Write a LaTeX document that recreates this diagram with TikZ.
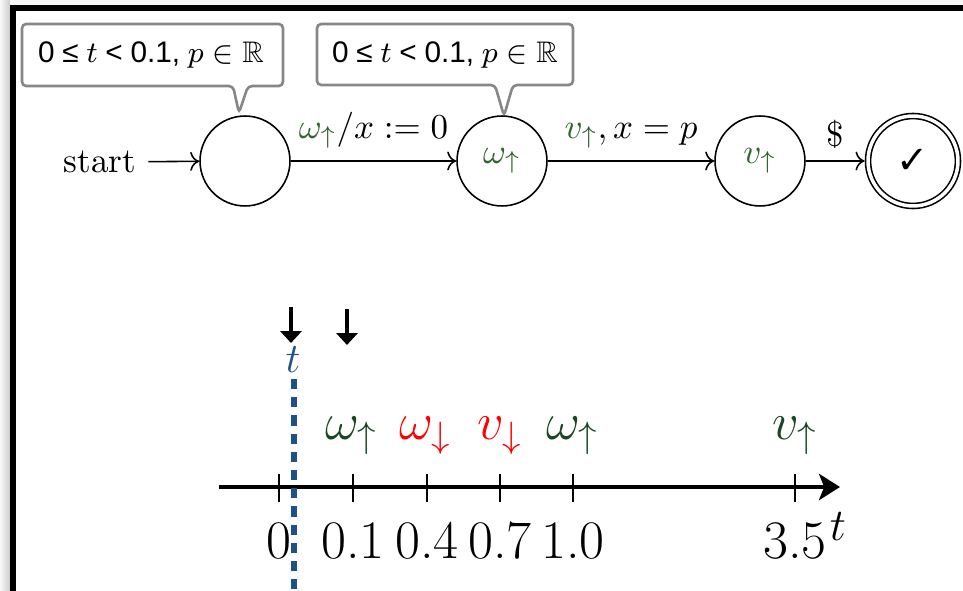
\RequirePackage{fix-cm}
\documentclass[tikz,border=0pt]{standalone}
\usepackage{amssymb}
\usepackage{fontspec}
\newfontfamily\calloutfont{Liberation Sans}
\newfontfamily\symfont{DejaVu Sans}
\usetikzlibrary{arrows.meta}
\definecolor{topgreen}{RGB}{50,100,50}
\definecolor{botgreen}{RGB}{25,70,35}
\definecolor{tblue}{RGB}{30,80,140}
\definecolor{cgray}{RGB}{135,135,135}
\newcommand\csp{\hspace{2.2pt}}
\tikzset{
  state/.style={circle, draw, minimum size=25.7pt, inner sep=0pt, line width=0.45pt},
  accept/.style={state, double, double distance=1pt, outer sep=1pt},
  edge/.style={->, line width=0.45pt},
  callout/.style={draw=cgray, line width=0.75pt, fill=white, rounded corners=1.2pt},
  ctext/.style={font=\calloutfont\fontsize{8.5}{10}\selectfont, inner sep=0pt},
  axisline/.style={line width=1.2pt, -{Stealth[length=6pt,width=7.5pt,inset=1.5pt]}},
  tickmark/.style={line width=0.5pt},
  downarr/.style={line width=0.9pt, -{Triangle[length=3.4pt,width=6pt]}},
  dashline/.style={tblue, line width=1.6pt, dash pattern=on 2.9pt off 2.3pt},
  ticklbl/.style={font=\fontsize{15.5}{17}\selectfont, inner sep=0pt},
  evlbl/.style={font=\fontsize{15}{17}\selectfont, inner sep=0pt, anchor=base},
  frameline/.style={line width=1.7pt}
}
\begin{document}
\begin{tikzpicture}[x=0.2857pt,y=-0.2857pt]
\useasboundingbox (0,0) rectangle (963,591);
\fill[white] (0,0) rectangle (963,591);
\fill[gray!6] (0,0) rectangle (963,5);
\shade[left color=gray!5, right color=gray!40] (0,0) rectangle (10,591);
\draw[frameline] (13,591) -- (13,8) -- (963,8);

% callouts
\draw[callout] (150,86) -- (22,86) -- (22,24) -- (283,24) -- (283,86) -- (248,86) -- (239,113) -- (233,86) -- cycle;
\draw[callout] (445,85) -- (317,85) -- (317,24) -- (573,24) -- (573,85) -- (513,85) -- (504,116) -- (495,85) -- cycle;
\node[ctext] (c1) at (151,55) {0\csp≤\csp$t$\csp<\csp0.1,\csp$p\in\mathbb{R}$};
\node[ctext] (c2) at (445,55) {0\csp≤\csp$t$\csp<\csp0.1,\csp$p\in\mathbb{R}$};

% automaton
\node (start) at (100,162) {start};
\node[state] (q0) at (245,161) {};
\node[state, text=topgreen] (q1) at (502,161) {$\omega_{\uparrow}$};
\node[state, text=topgreen] (q2) at (760,161) {$v_{\uparrow}$};
\node[accept] (q3) at (913,161) {\symfont\fontsize{11}{12}\selectfont ✓};
\draw[edge] (start) -- (q0);
\draw[edge] (q0) -- node[above] {$\textcolor{topgreen}{\omega_{\uparrow}}/x := 0$} (q1);
\draw[edge] (q1) -- node[above] {$\textcolor{topgreen}{v_{\uparrow}}, x = p$} (q2);
\draw[edge] (q2) -- node[above] {\$} (q3);

% timeline
\coordinate (axs) at (219,487);
\coordinate (axe) at (840,487);
\draw[axisline] (axs) -- (axe);
\foreach \xx in {279,353,427,500,573,795}
  \draw[tickmark] (\xx,474) -- (\xx,502);
\node[ticklbl] (n0) at (279,541) {0};
\node[ticklbl] (n1) at (353,541) {0.1};
\node[ticklbl] (n2) at (427,541) {0.4};
\node[ticklbl] (n3) at (500,541) {0.7};
\node[ticklbl] (n4) at (573,541) {1.0};
\node[ticklbl] (n5) at (795,541) {3.5};
\node[font=\fontsize{13}{15}\selectfont, inner sep=0pt] (tax) at (838,527) {$t$};

\node[evlbl, text=botgreen] (e1) at (352,440) {$\omega_{\uparrow}$};
\node[evlbl, text=red] (e2) at (426,440) {$\omega_{\downarrow}$};
\node[evlbl, text=red] (e3) at (500,440) {$v_{\downarrow}$};
\node[evlbl, text=botgreen] (e4) at (573,440) {$\omega_{\uparrow}$};
\node[evlbl, text=botgreen] (e5) at (795,440) {$v_{\uparrow}$};

% current time marker
\node[font=\fontsize{12}{14}\selectfont, text=tblue, inner sep=1pt] (tcur) at (293,360) {$t$};
\coordinate (dbot) at (294,591);
\coordinate (dtop) at (294,379);
\draw[dashline] (dtop) -- (dbot);
\coordinate (a1s) at (291,307);
\coordinate (a1e) at (291,343);
\coordinate (a2s) at (347,309);
\coordinate (a2e) at (347,345);
\draw[downarr] (a1s) -- (a1e);
\draw[downarr] (a2s) -- (a2e);
\end{tikzpicture}
\end{document}
